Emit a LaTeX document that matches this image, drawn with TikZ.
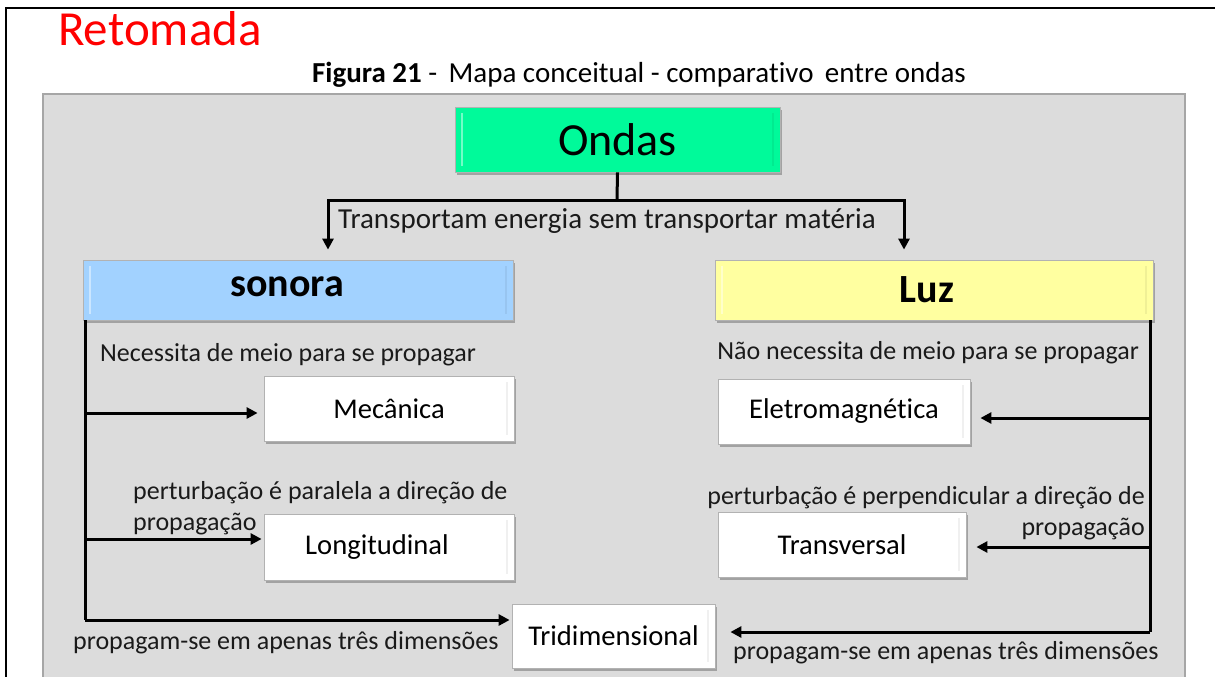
\documentclass[tikz,border=0pt]{standalone}
\usepackage{fontspec}
\setmainfont{Carlito}[Ligatures={NoCommon}]
\usetikzlibrary{arrows.meta,shadows}
\definecolor{panelgray}{HTML}{DCDCDC}
\definecolor{panelline}{HTML}{A6A6A6}
\definecolor{ondasgreen}{HTML}{00FA9A}
\definecolor{sonorablue}{HTML}{A2D2FF}
\definecolor{luzyellow}{HTML}{FFFFA0}
\definecolor{txt}{HTML}{1A1A1A}
\tikzset{
  box/.style={draw=black!30, line width=0.8pt, inner sep=0pt, text=black,
    drop shadow={shadow xshift=2pt, shadow yshift=-3pt, opacity=0.4, fill=black!70},
    path picture={
      \draw[white, opacity=0.45, line width=1.5pt]
        ([xshift=7pt,yshift=-6pt]path picture bounding box.north west) --
        ([xshift=7pt,yshift=6pt]path picture bounding box.south west);
      \draw[black, opacity=0.06, line width=1.5pt]
        ([xshift=-7pt,yshift=-6pt]path picture bounding box.north east) --
        ([xshift=-7pt,yshift=6pt]path picture bounding box.south east);
    }},
  leafbox/.style={box, fill=white, font=\fontsize{28.6}{32}\selectfont},
  lbl/.style={text=txt, inner sep=0pt, font=\fontsize{26}{31}\selectfont},
  conn/.style={line width=3pt, draw=black},
  arr/.style={conn, -{Triangle[length=11pt,width=11pt]}},
}
\begin{document}
\begin{tikzpicture}[x=1pt,y=-1pt]
\useasboundingbox (0,0) rectangle (1215,677);
% outer frame
\draw[line width=2pt] (5.5,677) -- (5.5,8) -- (1215,8);
% title
\node[anchor=base west, inner sep=0pt, text=red, font=\fontsize{49}{52}\selectfont] (ret) at (58,46) {Retomada};
\node[anchor=base, inner sep=0pt, font=\fontsize{29}{32}\selectfont] (fig) at (639,82) {\textbf{Figura 21} -\, Mapa conceitual - comparativo\, entre ondas};
% panel
\draw[fill=panelgray, draw=panelline, line width=2pt] (43,94) rectangle (1185,690);
% main boxes
\node[box, fill=ondasgreen, minimum width=325pt, minimum height=65pt, font=\fontsize{46}{48}\selectfont] (ondas) at (617.5,139.5) {Ondas};
\node[box, fill=sonorablue, minimum width=430pt, minimum height=60pt, font=\bfseries\fontsize{40}{42}\selectfont] (sonora) at (298,290) {\hspace*{-22pt}\raisebox{7pt}{sonora}};
\node[box, fill=luzyellow, minimum width=438pt, minimum height=60pt, font=\bfseries\fontsize{40}{42}\selectfont] (luz) at (934,290) {\hspace*{-14pt}Luz};
% leaves
\node[leafbox, minimum width=250pt, minimum height=65pt] (mec) at (389,408.5) {Mecânica};
\node[leafbox, minimum width=250pt, minimum height=66pt] (lon) at (389,547) {\hspace*{-24pt}Longitudinal};
\node[leafbox, minimum width=203pt, minimum height=64pt] (tri) at (613.5,636) {Tridimensional};
\node[leafbox, minimum width=252pt, minimum height=65pt] (ele) at (844,411.5) {Eletromagnética};
\node[leafbox, minimum width=248pt, minimum height=65pt] (tra) at (842,544.5) {Transversal};
% top connector
\coordinate (jt) at (617,200);
\coordinate (jl) at (328,200);
\coordinate (jr) at (904,200);
\draw[conn] (ondas.south) -- (jt);
\draw[arr, shorten >=10pt] (jt) -- (jl) -- (jl |- sonora.north);
\draw[arr, shorten >=10pt] (jt) -- (jr) -- (jr |- luz.north);
\node[lbl, anchor=west, font=\fontsize{29}{32}\selectfont] (transp) at (338,221) {Transportam energia sem transportar matéria};
% left trunk
\coordinate (lt0) at (85,320);
\coordinate (lt1) at (85,413);
\coordinate (lt2) at (85,539);
\coordinate (lt3) at (85,620);
\draw[conn] (lt0) -- (lt3);
\draw[arr, shorten >=6pt] (lt1) -- (lt1 -| mec.west);
\draw[arr, shorten >=2pt] (lt2) -- (lt2 -| lon.west);
\draw[arr, shorten >=2pt] (lt3) -- (lt3 -| tri.west);
% right trunk
\coordinate (rt0) at (1150,320);
\coordinate (rt1) at (1150,418);
\coordinate (rt2) at (1150,547);
\coordinate (rt3) at (1150,632);
\draw[conn] (rt0) -- (rt3);
\draw[arr, shorten >=10pt] (rt1) -- (rt1 -| ele.east);
\draw[arr, shorten >=10pt] (rt2) -- (rt2 -| tra.east);
\draw[arr, shorten >=15pt] (rt3) -- (rt3 -| tri.east);
% labels
\node[lbl, anchor=west] (nl) at (100,355) {Necessita de meio para se propagar};
\node[lbl, anchor=east] (nr) at (1139,353) {Não necessita de meio para se propagar};
\node[lbl, anchor=north west, align=left] (pl) at (133,481) {perturbação é paralela a direção de\\propagação};
\node[lbl, anchor=north east, align=right] (pr) at (1145,486) {perturbação é perpendicular a direção de\\propagação};
\node[lbl, anchor=west] (dl) at (73,643) {propagam-se em apenas três dimensões};
\node[lbl, anchor=west] (dr) at (733,653) {propagam-se em apenas três dimensões};
\end{tikzpicture}
\end{document}
